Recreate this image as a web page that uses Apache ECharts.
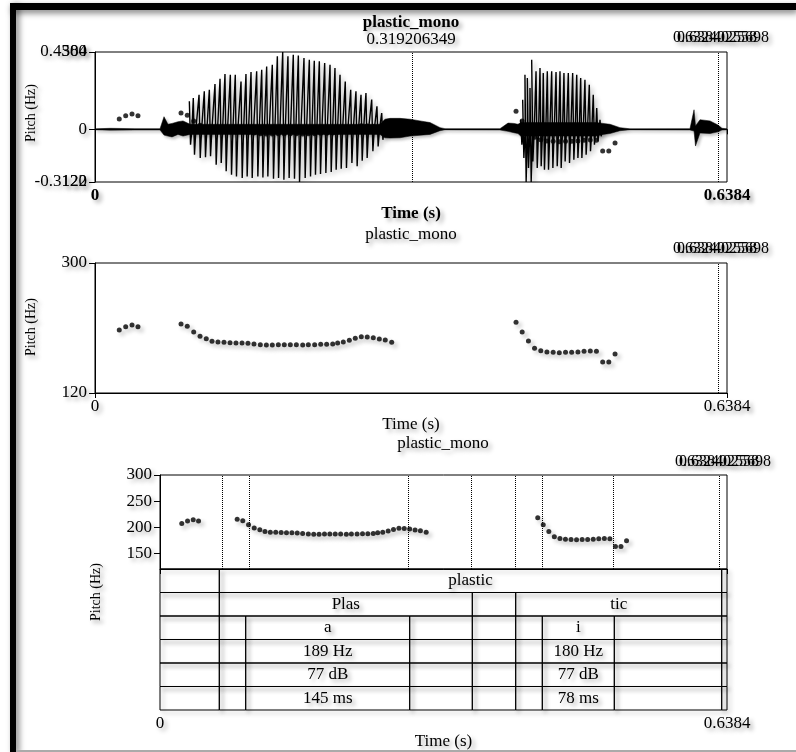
<!DOCTYPE html>
<html><head><meta charset="utf-8">
<script src="https://cdn.jsdelivr.net/npm/echarts@6/dist/echarts.min.js"></script>
<style>html,body{margin:0;padding:0;background:#fff}#c{width:796px;height:752px}</style>
</head><body><div id="c"></div>
<script>
// ---------- data ----------
const soundName = 'plastic_mono';
const timeMin = 0, timeMax = 0.6384;
const ampMax = 0.4584, ampMin = -0.3122;
const pitchMin = 120, pitchMax = 300;
const pitchTicksTop = [120, 300];
const pitchTicksBottom = [120, 150, 200, 250, 300];
const cursorTime = 0.319206349;
const cursorLabel = '0.319206349';
const endMarkTime = 0.6324;
const endMarkLabels = ['0.632402558', '0.6384025698'];
const yAxisTitle = 'Pitch (Hz)';
const xAxisTitle = 'Time (s)';

const pitchTimes = [
  0.0245, 0.0310, 0.0374, 0.0434,
  0.0869, 0.0932, 0.0997, 0.1061, 0.1124, 0.1182, 0.1242, 0.1303, 0.1364, 0.1424, 0.1485, 0.1545,
  0.1606, 0.1670, 0.1731, 0.1791, 0.1852, 0.1912, 0.1973, 0.2034, 0.2098, 0.2155, 0.2219, 0.2280,
  0.2340, 0.2401, 0.2451, 0.2508, 0.2569, 0.2629, 0.2690, 0.2750, 0.2811, 0.2872, 0.2932, 0.2997,
  0.4253, 0.4315, 0.4378, 0.4440, 0.4503, 0.4565, 0.4628, 0.4690, 0.4753, 0.4815, 0.4878, 0.4940,
  0.5003, 0.5065, 0.5128, 0.5190, 0.5253
];
const pitchValues = [
  207.2, 211.8, 214.2, 211.8,
  215.5, 212.3, 204.5, 198.5, 195.2, 191.6, 190.6, 190.2, 189.7, 189.2, 189.2, 188.8,
  187.8, 186.9, 186.5, 186.5, 186.9, 186.9, 186.9, 186.9, 186.5, 186.9, 186.9, 187.4,
  187.4, 187.8, 189.2, 190.6, 193.0, 195.7, 198.0, 197.5, 196.6, 194.8, 193.4, 190.2,
  217.9, 204.5, 192.0, 181.9, 178.6, 176.8, 176.3, 175.9, 176.3, 176.3, 176.8, 177.7,
  178.2, 177.7, 162.9, 162.9, 174.0
];

// voiced waveform: one entry per glottal cycle (peak time, positive peak, negative peak)
const cycleTimes1 = [0.0953,0.0993,0.1051,0.1104,0.1155,0.1212,0.1263,0.1313,0.1367,0.1417,0.1475,0.1525,0.1576,0.1633,0.1684,0.1734,0.1791,0.1842,0.1896,0.1949,0.2003,0.2054,0.2111,0.2165,0.2215,0.2266,0.2320,0.2374,0.2424,0.2475,0.2528,0.2583,0.2636,0.2687,0.2737,0.2795,0.2848,0.2896];
const cycleMax1 = [0.166,0.186,0.205,0.225,0.235,0.268,0.300,0.328,0.324,0.324,0.284,0.328,0.340,0.344,0.353,0.373,0.383,0.433,0.4584,0.433,0.442,0.438,0.423,0.413,0.407,0.403,0.393,0.383,0.363,0.324,0.284,0.235,0.225,0.205,0.215,0.176,0.136,0.097];
const cycleMin1 = [-0.091,-0.151,-0.170,-0.166,-0.160,-0.210,-0.200,-0.249,-0.269,-0.279,-0.289,-0.279,-0.289,-0.279,-0.285,-0.279,-0.293,-0.289,-0.299,-0.289,-0.293,-0.3122,-0.289,-0.279,-0.269,-0.265,-0.259,-0.253,-0.239,-0.233,-0.229,-0.200,-0.219,-0.186,-0.170,-0.130,-0.101,-0.062];
const cycleTimes2 = [0.4300,0.4320,0.4343,0.4367,0.4394,0.4411,0.4455,0.4495,0.4528,0.4569,0.4613,0.4657,0.4697,0.4737,0.4781,0.4825,0.4866,0.4906,0.4949,0.4993,0.5033,0.5068,0.5101];
const cycleMax2 = [0.057,0.176,0.324,0.304,0.245,0.413,0.344,0.363,0.334,0.344,0.344,0.340,0.344,0.334,0.334,0.334,0.324,0.304,0.294,0.264,0.205,0.126,0.057];
const cycleMin2 = [-0.091,-0.170,-0.3122,-0.229,-0.3122,-0.190,-0.229,-0.219,-0.239,-0.239,-0.229,-0.219,-0.229,-0.190,-0.200,-0.180,-0.170,-0.170,-0.151,-0.130,-0.091,-0.071,-0.041];

// unvoiced / noise envelope of the waveform
const noiseTimes = [0,0.0152,0.0404,0.0657,0.0697,0.0737,0.0778,0.0838,0.0889,0.0960,0.2879,0.2929,0.2980,0.3081,0.3182,0.3283,0.3384,0.3485,0.3535,0.4091,0.4172,0.4232,0.4273,0.4300,0.5061,0.5131,0.5202,0.5303,0.5404,0.6010,0.6051,0.6066,0.6111,0.6212,0.6293,0.6333,0.6384];
const noiseUpper = [0.003,0.006,0.004,0.004,0.075,0.030,0.035,0.045,0.050,0.030,0.030,0.060,0.065,0.065,0.060,0.050,0.040,0.010,0.004,0.004,0.037,0.035,0.030,0.040,0.040,0.035,0.030,0.010,0.003,0.004,0.116,0.020,0.057,0.050,0.025,0.006,0.003];
const noiseLower = [-0.003,-0.005,-0.004,-0.004,-0.034,-0.040,-0.045,-0.030,-0.040,-0.030,-0.030,-0.050,-0.052,-0.050,-0.040,-0.035,-0.030,-0.008,-0.003,-0.004,-0.012,-0.020,-0.025,-0.040,-0.040,-0.030,-0.025,-0.008,-0.003,-0.004,-0.010,-0.099,-0.022,-0.025,-0.015,-0.004,-0.003];

// TextGrid tiers: [start, end, label]
const wordTier = [[0,0.06677,''],[0.06677,0.63243,'plastic'],[0.63243,0.6384,'']];
const syllableTier = [[0,0.06677,''],[0.06677,0.35163,'Plas'],[0.35163,0.40049,''],[0.40049,0.63243,'tic'],[0.63243,0.6384,'']];
const segmentBounds = [0,0.06677,0.09649,0.28114,0.35163,0.40049,0.43044,0.51151,0.63243,0.6384];
const vowelLabels = ['','','a','','','','i','',''];
const pitchLabels = ['','','189 Hz','','','','180 Hz','',''];
const intensityLabels = ['','','77 dB','','','','77 dB','',''];
const durationLabels = ['','','145 ms','','','','78 ms','',''];
const boundaryTimes = [0.06677,0.09649,0.28114,0.35163,0.40049,0.43044,0.51151,0.63243];

// ---------- build ----------
const FONT = 'Liberation Serif';
const shadowT = {textShadowColor:'rgba(0,0,0,0.35)', textShadowBlur:4, textShadowOffsetX:3, textShadowOffsetY:3};
const shadowL = {shadowColor:'rgba(0,0,0,0.3)', shadowBlur:4, shadowOffsetX:3, shadowOffsetY:3};

function zig(ts, mx, mn){
  const out = [];
  ts.forEach((t,i)=>{ out.push([t, mx[i]]); out.push([t+0.0012, mn[i]]); out.push([t+0.0026, 0]); });
  return out;
}
const pitchPts = pitchTimes.map((t,i)=>[t, pitchValues[i]]);
const tableCells = [];
wordTier.forEach(c=>tableCells.push([c[0],c[1],0,c[2]]));
syllableTier.forEach(c=>tableCells.push([c[0],c[1],1,c[2]]));
[vowelLabels,pitchLabels,intensityLabels,durationLabels].forEach((labs,r)=>{
  for(let i=0;i<labs.length;i++) tableCells.push([segmentBounds[i],segmentBounds[i+1],r+2,labs[i]]);
});

const dotted = {type:'dotted', color:'#000', width:1};
function mark(times){
  return {silent:true, symbol:['none','none'], label:{show:false}, lineStyle:dotted, animation:false,
          data: times.map(t=>({xAxis:t}))};
}
function xAxisDef(grid, bold, gap){
  return {type:'value', gridIndex:grid, min:timeMin, max:timeMax,
    axisLine:{show:true, lineStyle:{color:'#000'}},
    axisTick:{show:true, customValues:[timeMin,timeMax], length:5, lineStyle:{color:'#000'}},
    axisLabel:{customValues:[timeMin,timeMax], margin:5, color:'#000', fontFamily:FONT, fontSize:17, fontWeight: bold?'bold':'normal',
      formatter:v=> v===0?'0':v.toFixed(4), ...shadowT},
    splitLine:{show:false},
    name:xAxisTitle, nameLocation:'middle', nameGap:gap,
    nameTextStyle:{color:'#000', fontFamily:FONT, fontSize:17, fontWeight: bold?'bold':'normal', ...shadowT}};
}
function yPitch(grid, ticks, showLine){
  return {type:'value', gridIndex:grid, min:pitchMin, max:pitchMax, position:'left',
    axisLine:{show:showLine, lineStyle:{color:'#000'}},
    axisTick:{show:true, customValues:ticks, length:6, lineStyle:{color:'#000'}},
    axisLabel:{customValues:ticks, margin:8, color:'#000', fontFamily:FONT, fontSize:17, formatter:v=>String(v), ...shadowT},
    splitLine:{show:false}};
}
function yTitle(x, y){
  return {type:'text', x:x, y:y, rotation:Math.PI/2,
    style:{text:yAxisTitle, align:'center', verticalAlign:'middle', font:'14px "Liberation Serif"', fill:'#000', ...shadowT}};
}
function plainText(txt, x, y, font, align){
  return {type:'text', x:x, y:y, style:{text:txt, align:align||'center', verticalAlign:'middle', font:font, fill:'#000', ...shadowT}};
}

const option = {
  animation:false,
  backgroundColor:'#fff',
  grid:[
    {left:95, top:52, width:632, height:130, show:true, borderColor:'#000', borderWidth:1, backgroundColor:'transparent'},
    {left:95, top:263, width:632, height:130, show:true, borderColor:'#000', borderWidth:1, backgroundColor:'transparent'},
    {left:160, top:475, width:567, height:94, show:true, borderColor:'#000', borderWidth:1, backgroundColor:'transparent'},
    {left:160, top:569, width:567, height:141, show:false}
  ],
  xAxis:[
    xAxisDef(0, true, 21),
    xAxisDef(1, false, 21),
    {type:'value', gridIndex:2, min:timeMin, max:timeMax, show:false},
    xAxisDef(3, false, 23)
  ],
  yAxis:[
    {type:'value', gridIndex:0, min:ampMin, max:ampMax, position:'left',
      axisLine:{show:true, lineStyle:{color:'#000'}},
      axisTick:{show:true, customValues:[ampMin,0,ampMax], length:6, lineStyle:{color:'#000'}},
      axisLabel:{customValues:[ampMin,0,ampMax], margin:8, color:'#000', fontFamily:FONT, fontSize:17,
        formatter:v=> v===0?'0':v.toFixed(4), ...shadowT},
      splitLine:{show:false}},
    yPitch(0, pitchTicksTop, false),
    yPitch(1, pitchTicksTop, true),
    yPitch(2, pitchTicksBottom, true),
    {type:'value', gridIndex:3, min:0, max:6, inverse:true, show:false}
  ],
  series:[
    {type:'custom', xAxisIndex:0, yAxisIndex:0, data:[[0,0]], silent:true, clip:true,
      renderItem:(params, api)=>{
        const pts = [];
        for(let i=0;i<noiseTimes.length;i++) pts.push(api.coord([noiseTimes[i], noiseUpper[i]]));
        for(let i=noiseTimes.length-1;i>=0;i--) pts.push(api.coord([noiseTimes[i], noiseLower[i]]));
        return {type:'polygon', shape:{points:pts}, style:{fill:'#000', stroke:'#000', lineWidth:0.5, shadowColor:'rgba(0,0,0,0.25)', shadowBlur:3, shadowOffsetX:2, shadowOffsetY:2}};
      }},
    {type:'line', xAxisIndex:0, yAxisIndex:0, data:zig(cycleTimes1,cycleMax1,cycleMin1), showSymbol:false, symbol:'none',
      lineStyle:{color:'#000', width:1.4, ...shadowL}, silent:true, markLine:mark([cursorTime, endMarkTime])},
    {type:'line', xAxisIndex:0, yAxisIndex:0, data:zig(cycleTimes2,cycleMax2,cycleMin2), showSymbol:false, symbol:'none',
      lineStyle:{color:'#000', width:1.4, ...shadowL}, silent:true},
    {type:'scatter', xAxisIndex:0, yAxisIndex:1, data:pitchPts, symbolSize:5, itemStyle:{color:'#000'}, silent:true},
    {type:'scatter', xAxisIndex:1, yAxisIndex:2, data:pitchPts, symbolSize:5, itemStyle:{color:'#000', ...shadowL}, silent:true,
      markLine:mark([endMarkTime])},
    {type:'scatter', xAxisIndex:2, yAxisIndex:3, data:pitchPts, symbolSize:5, itemStyle:{color:'#000', ...shadowL}, silent:true,
      markLine:mark(boundaryTimes)},
    {type:'custom', xAxisIndex:3, yAxisIndex:4, data:tableCells.map(c=>[c[0],c[1],c[2]]), silent:true, clip:false,
      renderItem:(params, api)=>{
        const t1 = api.value(0), t2 = api.value(1), r = api.value(2);
        const p1 = api.coord([t1, r]), p2 = api.coord([t2, r+1]);
        const lab = tableCells[params.dataIndex][3];
        return {type:'group', children:[
          {type:'rect', shape:{x:p1[0], y:p1[1], width:p2[0]-p1[0], height:p2[1]-p1[1]},
            style:{fill:'none', stroke:'#000', lineWidth:1, ...shadowL}},
          {type:'text', style:{text:lab, x:(p1[0]+p2[0])/2, y:(p1[1]+p2[1])/2, align:'center', verticalAlign:'middle',
            font:'17px "Liberation Serif"', fill:'#000', ...shadowT}}
        ]};
      }}
  ],
  graphic:[
    {type:'rect', shape:{x:10, y:3, width:6, height:749}, style:{fill:'#000', shadowColor:'rgba(0,0,0,0.5)', shadowBlur:6, shadowOffsetX:3, shadowOffsetY:2}, z:100},
    {type:'rect', shape:{x:10, y:3, width:786, height:7}, style:{fill:'#000', shadowColor:'rgba(0,0,0,0.5)', shadowBlur:6, shadowOffsetX:2, shadowOffsetY:3}, z:100},
    {type:'rect', shape:{x:16, y:750, width:780, height:2}, style:{fill:'#aaa'}, z:100},
    plainText(soundName, 411, 23, 'bold 17px "Liberation Serif"'),
    plainText(cursorLabel, 411, 40, '17px "Liberation Serif"'),
    plainText(endMarkLabels[0], 673, 38, '16px "Liberation Serif"', 'left'),
    plainText(endMarkLabels[1], 677, 38, '16px "Liberation Serif"', 'left'),
    plainText(soundName, 411, 235, '17px "Liberation Serif"'),
    plainText(endMarkLabels[0], 673, 249, '16px "Liberation Serif"', 'left'),
    plainText(endMarkLabels[1], 677, 249, '16px "Liberation Serif"', 'left'),
    plainText(soundName, 443, 444, '17px "Liberation Serif"'),
    plainText(endMarkLabels[0], 675, 462, '16px "Liberation Serif"', 'left'),
    plainText(endMarkLabels[1], 679, 462, '16px "Liberation Serif"', 'left'),
    yTitle(31, 113),
    yTitle(31, 327),
    yTitle(96, 592)
  ]
};
const chart = echarts.init(document.getElementById('c'), null, {renderer:'canvas'});
chart.setOption(option);
</script></body></html>
